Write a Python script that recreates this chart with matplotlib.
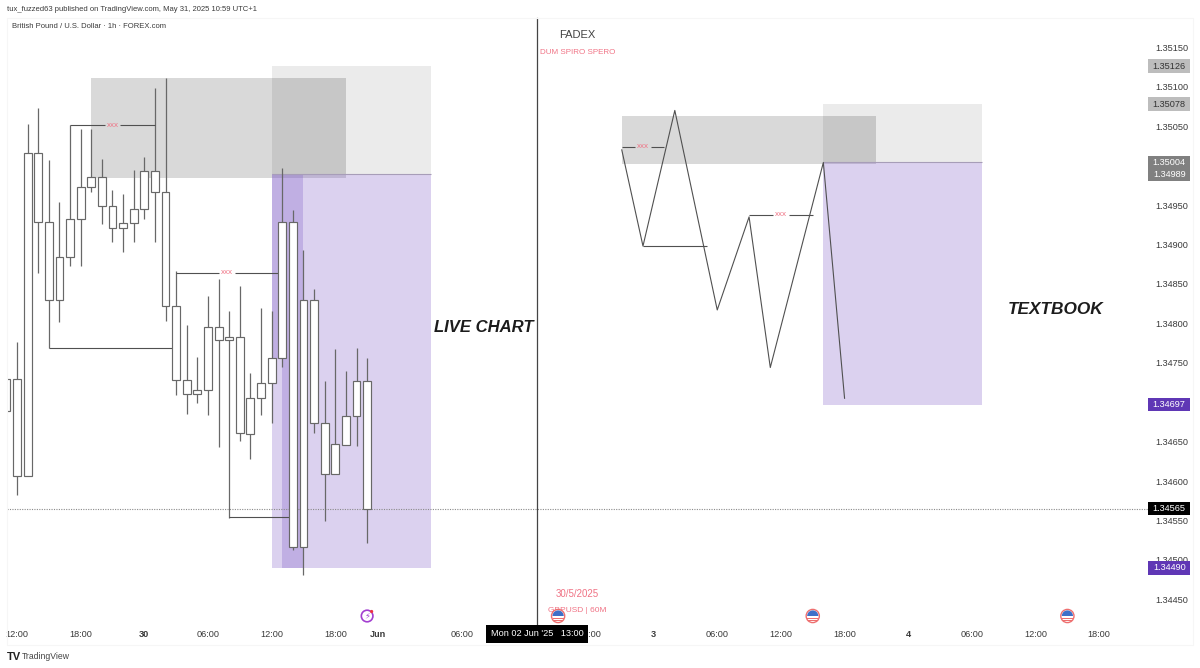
#!/usr/bin/env python3
import matplotlib.pyplot as plt
import numpy as np
from matplotlib.patches import Circle, Rectangle, Wedge

plt.switch_backend('agg')
plt.rcParams['font.family'] = ['Liberation Sans', 'DejaVu Sans']

# candles, bar -1 is the one cut off by the left edge
body_top = [1.34729, 1.34729, 1.35016, 1.35016, 1.34928, 1.34884, 1.34932, 1.34973, 1.34985,
            1.34985, 1.34949, 1.34927, 1.34945, 1.34993, 1.34993, 1.34967, 1.34822, 1.34728,
            1.34715, 1.34795, 1.34795, 1.34783, 1.34783, 1.34705, 1.34724, 1.34756, 1.34928,
            1.34928, 1.34830, 1.34830, 1.34674, 1.34647, 1.34682, 1.34727, 1.34727]
body_bot = [1.34689, 1.34606, 1.34606, 1.34928, 1.34829, 1.34829, 1.34884, 1.34932, 1.34973,
            1.34949, 1.34921, 1.34921, 1.34927, 1.34945, 1.34967, 1.34822, 1.34728, 1.34710,
            1.34710, 1.34715, 1.34779, 1.34779, 1.34661, 1.34660, 1.34705, 1.34724, 1.34756,
            1.34517, 1.34517, 1.34674, 1.34609, 1.34609, 1.34646, 1.34682, 1.34565]
wick_high = [1.34729, 1.34776, 1.35053, 1.35073, 1.35007, 1.34954, 1.35051, 1.35046, 1.35047,
             1.35008, 1.34969, 1.34964, 1.34994, 1.35011, 1.35098, 1.35111, 1.34867, 1.34798,
             1.34757, 1.34835, 1.34856, 1.34816, 1.34847, 1.34737, 1.34819, 1.34816, 1.34997,
             1.34944, 1.34893, 1.34844, 1.34727, 1.34767, 1.34740, 1.34769, 1.34756]
wick_low = [1.34689, 1.34582, 1.34606, 1.34864, 1.34769, 1.34802, 1.34873, 1.34873, 1.34966,
            1.34926, 1.34903, 1.34891, 1.34903, 1.34932, 1.34903, 1.34803, 1.34709, 1.34685,
            1.34699, 1.34684, 1.34643, 1.34553, 1.34651, 1.34628, 1.34684, 1.34674, 1.34745,
            1.34512, 1.34481, 1.34661, 1.34550, 1.34609, 1.34646, 1.34645, 1.34521]

# textbook zigzag on the right
zigzag_bars = [57, 59, 62, 66, 69, 71, 76, 78]
zigzag_prices = [1.35020, 1.34898, 1.35070, 1.34817, 1.34935, 1.34744, 1.35004, 1.34705]

# drawn levels: bar from, bar to, price
marked_levels = [(5, 13, 1.35051), (15, 24.6, 1.34864), (57, 61, 1.35024), (69, 75, 1.34938)]
plain_levels = [(3, 14.6, 1.34769), (20, 25.6, 1.34554), (59, 65, 1.34898)]

# zones: bar from, bar to, price low, price high
grey_zones = [(7, 31, 1.34984, 1.35111), (57, 81, 1.35002, 1.35063)]
target_zones = [(24, 39, 1.34989, 1.35126), (76, 91, 1.35004, 1.35078)]
stop_zones = [(24, 39, 1.34490, 1.34989), (76, 91, 1.34697, 1.35004)]
dark_zones = [(24, 27, 1.34755, 1.34989), (25, 27, 1.34490, 1.34755)]

# 1.35000, 1.34700 and the 12:00 of 2 Jun sit under tags in the picture, so they are left out
price_ticks = [1.35150, 1.35100, 1.35050, 1.34950, 1.34900, 1.34850, 1.34800,
               1.34750, 1.34650, 1.34600, 1.34550, 1.34500, 1.34450]
time_ticks = [0, 6, 12, 18, 24, 30, 34, 42, 54, 60, 66, 72, 78, 84, 90, 96, 102]
time_labels = ['12:00', '18:00', '30', '06:00', '12:00', '18:00', 'Jun', '06:00',
               '18:00', '3', '06:00', '12:00', '18:00', '4', '06:00', '12:00', '18:00']
bold_labels = ['30', 'Jun', '3', '4']

grey_tags = [1.35126, 1.35078]
dark_tags = [1.35004, 1.34989]
purple_tags = [1.34697, 1.34490]
last_price = 1.34565
cross_bar = 49
flag_bars = [51, 75, 99]
bolt_bar = 33

W, H = 1200, 668
CANDLE = '#686868'
LINE = '#505050'
TEXT = '#3a3a3a'
PINK = '#f07385'
PURPLE = '#5f37b5'

fig = plt.figure(figsize=(W / 100, H / 100), dpi=100, facecolor='white')
ax = fig.add_axes([7 / W, 1 - 622 / H, (1148 - 7) / W, (622 - 18) / H])
ax.set_xlim(-0.943, 106.6)
ax.set_ylim(1.344213, 1.351872)
for s in ax.spines.values():
    s.set_visible(False)

for x0, x1, lo, hi in grey_zones:
    ax.add_patch(Rectangle((x0, lo), x1 - x0, hi - lo, fc='black', alpha=0.15, lw=0, zorder=1))
for x0, x1, lo, hi in target_zones:
    ax.add_patch(Rectangle((x0, lo), x1 - x0, hi - lo, fc='black', alpha=0.08, lw=0, zorder=1))
    ax.hlines(lo, x0, x1, color='#a79db8', lw=0.8, zorder=1.5)
for x0, x1, lo, hi in stop_zones + dark_zones:
    ax.add_patch(Rectangle((x0, lo), x1 - x0, hi - lo, fc='#7a55c5', alpha=0.27, lw=0, zorder=1))

bars = np.arange(-1, len(body_top) - 1)
tops = np.array(body_top)
bots = np.array(body_bot)
ax.vlines(bars, wick_low, wick_high, color=CANDLE, lw=0.9, zorder=3)
ax.bar(bars, tops - bots, bottom=bots, width=0.74, fc='white', ec=CANDLE, lw=0.85, zorder=4)

ax.plot(zigzag_bars, zigzag_prices, color=LINE, lw=0.8, zorder=3)

for x0, x1, price in marked_levels:
    mid = (x0 + x1) / 2
    ax.hlines([price, price], [x0, mid + 0.75], [mid - 0.75, x1], color=LINE, lw=0.8, zorder=3)
    ax.text(mid, price, 'xxx', color=PINK, fontsize=5.8, ha='center', va='center', zorder=5)
for x0, x1, price in plain_levels:
    ax.hlines(price, x0, x1, color=LINE, lw=0.8, zorder=3)

ax.axhline(last_price, color='#8a8a8a', lw=0.8, ls=(0, (1, 1.2)), zorder=2)
ax.plot([cross_bar, cross_bar], [-0.006, 1], transform=ax.get_xaxis_transform(), color='#444444',
        lw=0.9, clip_on=False, zorder=2)

ax.yaxis.tick_right()
ax.set_yticks(price_ticks, [f'{p:.5f}' for p in price_ticks])
ax.tick_params(axis='y', length=0, pad=5.5, labelsize=6.6, labelcolor=TEXT)
ax.set_xticks(time_ticks, time_labels)
ax.tick_params(axis='x', length=0, pad=6, labelsize=6.6, labelcolor=TEXT)
for lab in ax.get_xticklabels():
    if lab.get_text() in bold_labels:
        lab.set_fontweight('bold')

ytrans = ax.get_yaxis_transform()
TAG_LEFT = 1.0004
TAG_WIDTH = 0.0364
TAG_HEIGHT = 0.000172


def price_tag(price, color, fg):
    ax.add_patch(Rectangle((TAG_LEFT, price - TAG_HEIGHT / 2), TAG_WIDTH, TAG_HEIGHT,
                           transform=ytrans, fc=color, ec='none', clip_on=False, zorder=8))
    ax.text(TAG_LEFT + TAG_WIDTH / 2, price, f'{price:.5f}', transform=ytrans, fontsize=6.6,
            color=fg, ha='center', va='center', clip_on=False, zorder=9)


for p in grey_tags:
    price_tag(p, '#bdbdbd', '#333333')
for p in dark_tags:
    price_tag(p, '#808080', 'white')
for p in purple_tags:
    price_tag(p, PURPLE, 'white')
price_tag(last_price, 'black', 'white')

ax.text(39.3, 1.34795, 'LIVE CHART', fontsize=12, style='italic', fontweight='bold',
        color='#1c1c1c', va='center', zorder=6)
ax.text(93.4, 1.34817, 'TEXTBOOK', fontsize=12.4, style='italic', fontweight='bold',
        color='#1c1c1c', va='center', zorder=6)

# page furniture, in pixel coordinates
over = fig.add_axes([0, 0, 1, 1], zorder=10)
over.set_xlim(0, W)
over.set_ylim(H, 0)
over.axis('off')
over.patch.set_alpha(0)

over.add_patch(Rectangle((7, 18), 1186, 627, fc='none', ec='#f6f6f6', lw=0.8))
over.text(7, 9.5, 'tux_fuzzed63 published on TradingView.com, May 31, 2025 10:59 UTC+1',
          fontsize=5.5, color=TEXT, va='center')
over.text(12, 27, 'British Pound / U.S. Dollar · 1h · FOREX.com', fontsize=5.5, color=TEXT,
          va='center')
over.text(577.5, 35, 'FADEX', fontsize=8, color='#444444', ha='center', va='center')
over.text(577.5, 53, 'DUM SPIRO SPERO', fontsize=5.8, color=PINK, ha='center', va='center')
over.text(577, 594, '30/5/2025', fontsize=7, color=PINK, ha='center', va='center')
over.text(577.5, 610, 'GBPUSD | 60M', fontsize=6, color=PINK, ha='center', va='center')

over.add_patch(Rectangle((486, 625), 102, 17.5, fc='black', ec='none', zorder=5))
over.text(537, 634, "Mon 02 Jun '25   13:00", fontsize=6.6, color='white', ha='center',
          va='center', zorder=6)


def to_px(bar):
    return 17 + 10.61 * bar


for b in flag_bars:
    cx = to_px(b)
    over.add_patch(Circle((cx, 616), 6.6, fc='white', ec='#ee6f6f', lw=1.0, zorder=7))
    over.add_patch(Rectangle((cx - 5.4, 617.5), 10.8, 1.4, fc='#ee6f6f', ec='none', zorder=7))
    over.add_patch(Rectangle((cx - 4.4, 620), 8.8, 1.3, fc='#ee6f6f', ec='none', zorder=7))
    over.add_patch(Wedge((cx, 616), 5.6, 180, 360, fc='#3f70c8', ec='none', zorder=8))

cx = to_px(bolt_bar)
over.add_patch(Circle((cx, 616), 5.8, fc='white', ec='#a33fd0', lw=1.2))
over.text(cx, 616, '⚡', fontsize=6, color='#a33fd0', ha='center', va='center',
          family=['DejaVu Sans'])
over.add_patch(Circle((cx + 4.5, 611.5), 1.6, fc='#ee3344', ec='none', zorder=6))

over.text(7, 656.5, 'TV', fontsize=8, fontweight='bold', color='#222222', va='center')
over.text(22, 656.5, 'TradingView', fontsize=6.2, color='#444444', va='center')

fig.savefig('out.png', dpi=100)
